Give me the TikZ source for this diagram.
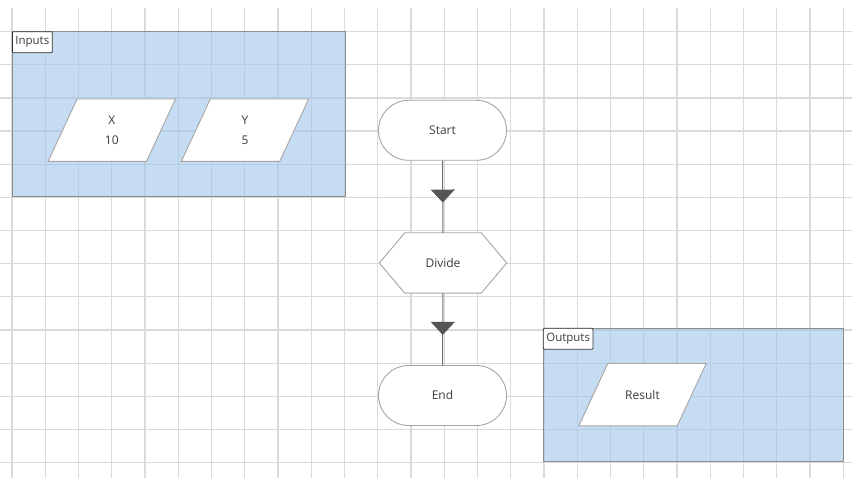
\documentclass[tikz,border=0pt]{standalone}
\usepackage{fontspec}
\setmainfont{Open Sans}
\usetikzlibrary{arrows.meta,decorations.markings}
\definecolor{gridgray}{RGB}{218,218,218}
\definecolor{boxblue}{RGB}{160,197,235}
\definecolor{boxedge}{RGB}{140,140,140}
\definecolor{shapeedge}{RGB}{165,165,165}
\definecolor{flowgray}{RGB}{110,110,110}
\definecolor{tipgray}{RGB}{85,85,85}
\definecolor{txtgray}{RGB}{60,60,60}
% parallelogram: node name, position, text
\def\ioshape#1#2#3{
\node[iobox] (#1) at (#2) {};
\draw[shapeline] ([xshift=29pt]#1.north west) -- (#1.north east)
  -- ([xshift=-29pt]#1.south east) -- (#1.south west) -- cycle;
\node[align=center] at (#1) {#3};}

\begin{document}
\begin{tikzpicture}[x=1pt,y=-1pt,
  every node/.style={font=\fontsize{12}{20}\selectfont,text=txtgray},
  gridline/.style={draw=gridgray,line width=1.2pt},
  groupbox/.style={draw=boxedge,line width=0.8pt,fill=boxblue,fill opacity=0.6,text opacity=1,inner sep=0pt},
  grouplabel/.style={draw=black!80,fill=white,rounded corners=1pt,line width=0.8pt,
    inner xsep=3pt,inner ysep=1pt,minimum height=21pt,anchor=north west,
    font=\fontsize{11.5}{13}\selectfont},
  shapeline/.style={draw=shapeedge,fill=white,line width=0.9pt},
  iobox/.style={rectangle,minimum width=127pt,minimum height=62pt,inner sep=0pt},
  terminal/.style={rectangle,rounded corners=30pt,shapeline,
    minimum width=128pt,minimum height=60pt},
  process/.style={rectangle,minimum width=127pt,minimum height=60pt},
  flow/.style={draw=flowgray,line width=1pt,postaction={decorate},
    decoration={markings,mark=at position 0.58 with
      {\arrow{Triangle[width=24pt,length=13pt,fill=tipgray,color=tipgray]}}}}]
\useasboundingbox[fill=white] (0,0) rectangle (852,478);

% grid
\foreach \i in {0,...,25}
  \draw[gridline] ({12+33.25*\i},8) -- ({12+33.25*\i},478);
\foreach \j in {1,...,14}
  \draw[gridline] (0,{-1.5+33.15*\j}) -- (852,{-1.5+33.15*\j});

% groups
\node[groupbox,minimum width=332.7pt,minimum height=165pt] (inputs) at (178.7,114.2) {};
\node[grouplabel] (inputslabel) at (inputs.north west) {Inputs};
\node[groupbox,minimum width=300pt,minimum height=133.4pt] (outputs) at (693.3,395) {};
\node[grouplabel] (outputslabel) at (outputs.north west) {Outputs};

\ioshape{x}{111.8,130.2}{X\\10}
\ioshape{y}{245,130.2}{Y\\5}
\ioshape{result}{642.5,394.7}{Result}

% flow
\node[terminal] (start) at (442.5,130.3) {Start};
\node[process] (divide) at (443,263) {};
\draw[shapeline] (divide.west) -- ([xshift=25.5pt]divide.north west)
  -- ([xshift=-25.5pt]divide.north east) -- (divide.east)
  -- ([xshift=-25.5pt]divide.south east) -- ([xshift=25.5pt]divide.south west) -- cycle;
\node at (divide) {Divide};
\node[terminal] (end) at (442.5,395.5) {End};

\draw[flow] (start) -- (divide);
\draw[flow] (divide) -- (end);
\end{tikzpicture}
\end{document}
